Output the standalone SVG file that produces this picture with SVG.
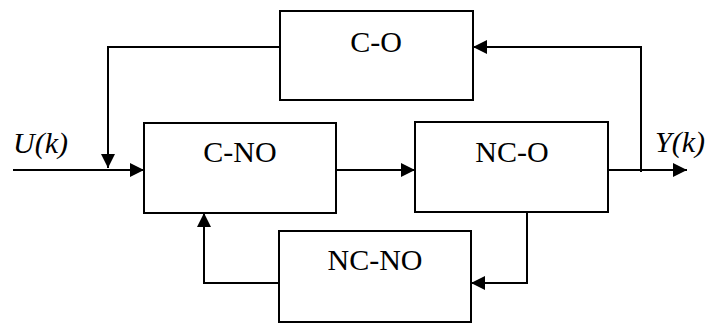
<svg xmlns="http://www.w3.org/2000/svg" width="705" height="324" viewBox="0 0 705 324">
  <style>
    .box { fill: #fff; stroke: #000; stroke-width: 2; }
    .lbl { font-family: "Liberation Serif", "Times New Roman", serif; font-size: 30px; fill: #000; text-anchor: middle; }
    .sig { font-family: "Liberation Serif", "Times New Roman", serif; font-size: 30px; font-style: italic; fill: #000; }
    .wire { fill: none; stroke: #000; stroke-width: 2; }
  </style>
  <defs>
    <marker id="arrow" viewBox="0 0 14 14" refX="14" refY="7" markerWidth="14" markerHeight="14" markerUnits="userSpaceOnUse" orient="auto">
      <path d="M0,0 L14,7 L0,14 Z" fill="#000"/>
    </marker>
  </defs>

  <rect width="705" height="324" fill="#fff"/>

  <g id="connectors">
    <!-- input U(k) into C-NO -->
    <path class="wire" d="M13,170 H144" marker-end="url(#arrow)"/>
    <!-- C-O output down onto input line -->
    <path class="wire" d="M280,47 H108 V168" marker-end="url(#arrow)"/>
    <!-- C-NO to NC-O -->
    <path class="wire" d="M336,170 H415" marker-end="url(#arrow)"/>
    <!-- NC-O output Y(k) -->
    <path class="wire" d="M608,170 H687" marker-end="url(#arrow)"/>
    <!-- Y(k) fed back to C-O -->
    <path class="wire" d="M641,172 V47 H473" marker-end="url(#arrow)"/>
    <!-- NC-O down to NC-NO -->
    <path class="wire" d="M527,212 V283 H471" marker-end="url(#arrow)"/>
    <!-- NC-NO back up to C-NO -->
    <path class="wire" d="M279,283 H204 V213" marker-end="url(#arrow)"/>
  </g>

  <g id="c-o">
    <rect class="box" x="280" y="11" width="193" height="89"/>
    <text class="lbl" x="376" y="52">C-O</text>
  </g>
  <g id="c-no">
    <rect class="box" x="144" y="123" width="192" height="90"/>
    <text class="lbl" x="240" y="162">C-NO</text>
  </g>
  <g id="nc-o">
    <rect class="box" x="415" y="122" width="193" height="90"/>
    <text class="lbl" x="512" y="162">NC-O</text>
  </g>
  <g id="nc-no">
    <rect class="box" x="279" y="231" width="192" height="91"/>
    <text class="lbl" x="375" y="270">NC-NO</text>
  </g>

  <g id="signals">
    <text class="sig" x="13" y="153">U(k)</text>
    <text class="sig" x="655" y="152">Y(k)</text>
  </g>
</svg>
